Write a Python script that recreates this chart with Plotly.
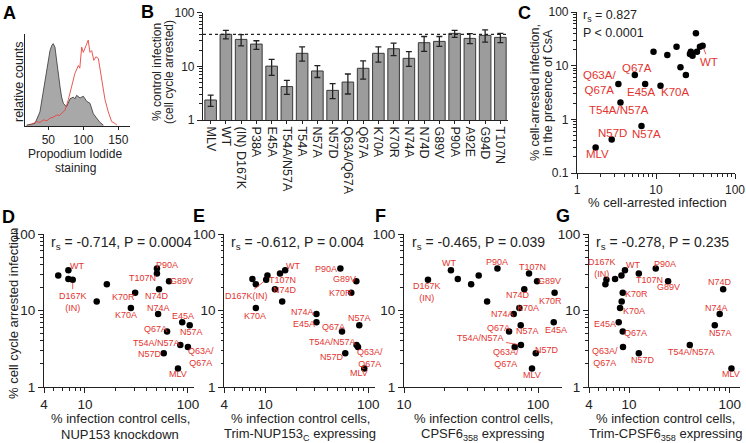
import numpy as np
import plotly.graph_objects as go

W, H = 746, 443
FONT = "Arial, Liberation Sans, Helvetica, sans-serif"
RED = "#e3342f"
INK = "#222222"

# ---------------- Panel A: histogram (Propidium iodide) ----------------
gray_x = [19, 31, 38, 43, 48, 52.4, 55, 57, 59.5, 62, 64.3, 66.7, 69, 71.4, 76, 81, 85.7, 88, 90.5, 95.3, 100, 102, 105, 109.5, 114.3, 119, 124, 128.6]
gray_y = [0.01, 0.03, 0.16, 0.39, 0.66, 0.86, 0.92, 0.94, 0.90, 0.73, 0.58, 0.45, 0.33, 0.26, 0.22, 0.31, 0.33, 0.31, 0.35, 0.32, 0.34, 0.31, 0.28, 0.26, 0.14, 0.09, 0.04, 0.01]
red_x = [24, 33.4, 38, 43, 48, 52.4, 57, 62, 66, 69, 73.8, 78.6, 83.4, 88, 92.9, 95, 97.7, 100, 102, 104, 107, 109.5, 112, 115, 118, 121.5, 124, 127.7, 131, 135.7, 140.5, 145, 148]
red_y = [0.01, 0.05, 0.04, 0.07, 0.06, 0.09, 0.10, 0.125, 0.12, 0.14, 0.18, 0.30, 0.45, 0.60, 0.69, 0.66, 0.90, 0.84, 0.88, 0.92, 0.98, 0.84, 0.86, 0.75, 0.79, 0.77, 0.65, 0.47, 0.30, 0.16, 0.05, 0.03, 0.01]
a_ticks = [50, 100, 150]

# ---------------- Panel B: bar chart ----------------
b_labels = ["MLV", "WT", "(IN) D167K", "P38A", "E45A", "T54A/N57A", "T54A", "N57A", "N57D", "Q63A/Q67A",
            "Q67A", "K70A", "K70R", "N74A", "N74D", "G89V", "P90A", "A92E", "G94D", "T107N"]
b_mean = [2.36, 39.5, 31.8, 26, 10.1, 4.2, 17.5, 8.2, 3.57, 5.1, 9.2, 17.5, 21.3, 14.1, 27.6, 29.2, 41.2, 33.2, 37.8, 34.7]
b_upper = [2.9, 47, 39, 30, 13.5, 5.5, 23, 10.3, 4.75, 7.2, 12.6, 23, 27.2, 18.8, 36, 36, 47, 40.7, 48, 41.2]
b_lower = [1.8, 32.5, 24, 20.7, 6.8, 3.0, 12.5, 6.2, 2.5, 3.05, 5.8, 12.0, 15.8, 10.0, 19.0, 23.6, 34.7, 26.5, 28.4, 27.8]

# ---------------- Scatter panels ----------------
mutants = ["MLV", "WT", "D167K", "P38A", "E45A", "T54A/N57A", "T54A", "N57A", "N57D", "Q63A/Q67A",
           "Q67A", "K70A", "K70R", "N74A", "N74D", "G89V", "P90A", "A92E", "G94D", "T107N"]
# Panel C
c_x = [1.72, 38.9, 27.6, 23.9, 7.29, 3.55, 13.9, 6.55, 2.75, 3.34, 5.39, 11.4, 18.2, 9.3, 20.4, 26.9, 36, 29, 33, 32]
c_y = [0.30, 23.5, 18.2, 6.7, 4.55, 2.07, 15.8, 0.75, 0.42, 4.55, 6.7, 4.24, 22.6, 18.2, 9.3, 16.5, 22.6, 15.3, 18.2, 40]
# Panels D-G: shared y (cell cycle arrested infection)
arrested_y = [1.75, 33.6, 25.3, 22, 7.0, 3.53, 13.1, 6.4, 2.77, 3.33, 5.3, 10.8, 17, 9.0, 19, 24.2, 35.3, 25.9, 28.6, 30.4]
d_x = [80, 6.9, 7.6, 16.3, 88, 84.3, 13, 104, 58.2, 100, 62.7, 27.9, 30.7, 51.3, 52.4, 65.5, 50, 6.9, 5.5, 50]
e_x = [91.4, 15.6, 10.2, 8.1, 31.4, 77, 14.6, 81.8, 59.8, 79.5, 55.6, 8.1, 68.4, 31.4, 12.4, 76.6, 53.6, 7.5, 10.5, 13.9]
f_x = [90.2, 22.4, 15.1, 31.7, 131, 74.6, 41.7, 74.3, 96.2, 67, 60.8, 72.6, 133, 65.9, 79, 98.4, 49.8, 25.2, 36.1, 85.7]
g_x = [104, 9.1, 5.96, 5.82, 7.89, 40.1, 8.45, 71, 12.5, 8.7, 8.65, 8.14, 8.65, 79.5, 86, 24.4, 18.4, 7.26, 8.4, 12.5]

stats = {
    "C": ["r<sub>s</sub> = 0.827", "P < 0.0001"],
    "D": "r<sub>s</sub> = -0.714, P = 0.0004",
    "E": "r<sub>s</sub> = -0.612, P = 0.004",
    "F": "r<sub>s</sub> = -0.465, P = 0.039",
    "G": "r<sub>s</sub> = -0.278, P = 0.235",
}

# label placement (text, dx px, dy px, leader line)
QQ = "Q63A/<br>Q67A"
lab_C = {"WT": ("WT", 6, 16, True), "Q67A": ("Q67A", 2, -7, False), "Q63A/Q67A": (QQ, -19, -2, False),
         "E45A": ("E45A", -4, 8, False), "K70A": ("K70A", 14, 6, False), "T54A/N57A": ("T54A/N57A", -1, 8, False),
         "N57D": ("N57D", 1, -7, False), "N57A": ("N57A", 5, 8, False), "MLV": ("MLV", 2, 7, False)}
lab_D = {"WT": ("WT", 9, -4, False), "D167K": ("D167K<br>(IN)", 0, 22, True), "K70R": ("K70R", -12, 4, False),
         "K70A": ("K70A", -5, 7, False), "P90A": ("P90A", 10, -4, False), "T107N": ("T107N", -14, 4, False),
         "G89V": ("G89V", 12, 0, False), "N74D": ("N74D", -2, 7, False), "N74A": ("N74A", 0, -6, False),
         "E45A": ("E45A", 1, -6, False), "N57A": ("N57A", 2, 7, False), "Q67A": ("Q67A", -12, -3, False),
         "T54A/N57A": ("T54A/N57A", -24, -2, False), "N57D": ("N57D", -14, 1, False),
         "Q63A/Q67A": (QQ, 13, 10, False), "MLV": ("MLV", 0, 6, False)}
lab_E = {"WT": ("WT", 8, -4, False), "T107N": ("T107N", 2, 6, False), "N74D": ("N74D", 10, 1, False),
         "D167K": ("D167K(IN)", -20, 16, True), "K70A": ("K70A", -1, 8, False), "P90A": ("P90A", -14, 0, False),
         "G89V": ("G89V", -12, -2, False), "K70R": ("K70R", -11, 0, False), "N74A": ("N74A", -14, -2, False),
         "E45A": ("E45A", -12, 2, False), "Q67A": ("Q67A", -9, -5, False), "N57A": ("N57A", 0, -7, False),
         "T54A/N57A": ("T54A/N57A", -24, -3, False), "N57D": ("N57D", -13, 4, False),
         "Q63A/Q67A": (QQ, 12, 11, False), "MLV": ("MLV", -5, 5, False)}
lab_F = {"D167K": ("D167K<br>(IN)", -1, 12, False), "WT": ("WT", -2, -7, False), "P90A": ("P90A", 0, -7, False),
         "T107N": ("T107N", 3, -7, False), "G89V": ("G89V", 12, 0, False), "N74D": ("N74D", -6, 6, False),
         "K70A": ("K70A", 9, 0, False), "N74A": ("N74A", -11, 0, False), "N57A": ("N57A", 7, 6, False),
         "Q67A": ("Q67A", -11, -4, False), "T54A/N57A": ("T54A/N57A", -40, -7, True),
         "Q63A/Q67A": (QQ, -9, 11, False), "N57D": ("N57D", 11, -3, False), "MLV": ("MLV", 0, 7, False),
         "K70R": ("K70R", -4, 8, False), "E45A": ("E45A", 2, 8, False)}
lab_G = {"D167K": ("D167K<br>(IN)", -4, -12, False), "WT": ("WT", 8, -5, False), "T107N": ("T107N", 11, 6, False),
         "P90A": ("P90A", 9, -5, False), "G89V": ("G89V", 0, 6, False), "K70R": ("K70R", 14, 1, False),
         "K70A": ("K70A", 14, 3, False), "E45A": ("E45A", -14, 2, False), "Q67A": ("Q67A", 13, 1, False),
         "Q63A/Q67A": (QQ, -18, 10, False), "N57D": ("N57D", 4, 7, False), "T54A/N57A": ("T54A/N57A", 2, 7, False),
         "N74D": ("N74D", -3, -7, False), "N74A": ("N74A", -3, -6, False), "N57A": ("N57A", 6, 8, False),
         "MLV": ("MLV", 0, 6, False)}


def fx(px):
    return px / W


def fy(py):
    return 1 - py / H


fig = go.Figure()
annotations = []
shapes = []

axis_common = dict(showline=True, linecolor=INK, linewidth=1.2, ticks="outside", tickcolor=INK,
                   tickwidth=1.2, ticklen=5, showgrid=False, zeroline=False, automargin=False,
                   tickfont=dict(family=FONT, size=13, color=INK))

def minor_vals(lo, hi):
    vals = []
    for dec in [0.1, 1, 10, 100]:
        for m in range(2, 10):
            v = m * dec
            if lo < v < hi:
                vals.append(v)
    return vals

def log_axis(lo, hi, ticks, fontsize=13):
    d = dict(axis_common)
    d.update(type="log", range=[np.log10(lo), np.log10(hi)], tickmode="array",
             tickvals=ticks, ticktext=[("%g" % t) for t in ticks],
             tickfont=dict(family=FONT, size=fontsize, color=INK),
             minor=dict(ticks="outside", ticklen=2.5, tickwidth=1, tickcolor=INK,
                        tickmode="array", tickvals=minor_vals(lo, hi), showgrid=False))
    return d

layout_axes = {}

# ---- A
fig.add_trace(go.Scatter(x=gray_x, y=gray_y, mode="lines", fill="tozeroy", fillcolor="#a8a8a8",
                         line=dict(color="#333333", width=0.8), xaxis="x", yaxis="y"))
fig.add_trace(go.Scatter(x=red_x, y=red_y, mode="lines", line=dict(color="#e8453f", width=0.9),
                         xaxis="x", yaxis="y"))
ax = dict(axis_common)
ax.update(domain=[fx(25), fx(130)], range=[16.7, 166.7], tickmode="array", tickvals=a_ticks,
          anchor="y", ticklen=2.5, tickfont=dict(family=FONT, size=12, color=INK))
ay = dict(axis_common)
ay.update(domain=[fy(126), fy(34)], range=[0, 1.05], ticks="", showticklabels=False, anchor="x")
layout_axes["xaxis"] = ax
layout_axes["yaxis"] = ay

# ---- B
fig.add_trace(go.Bar(x=b_labels, y=b_mean, xaxis="x2", yaxis="y2",
                     marker=dict(color="#9c9c9c", line=dict(color="#3a3a3a", width=1)),
                     width=0.76,
                     error_y=dict(type="data", symmetric=False,
                                  array=[u - m for u, m in zip(b_upper, b_mean)],
                                  arrayminus=[m - l for m, l in zip(b_mean, b_lower)],
                                  color=INK, thickness=1.3, width=3)))
bx = dict(axis_common)
bx.update(domain=[fx(203), fx(508)], range=[-0.5, 19.5], tickangle=90, anchor="y2", ticklen=3,
          tickmode="array", tickvals=b_labels, ticktext=b_labels,
          tickfont=dict(family=FONT, size=12.5, color=INK))
by = log_axis(1, 100, [1, 10, 100], fontsize=12)
by.update(domain=[fy(120), fy(12.7)], anchor="x2")
layout_axes["xaxis2"] = bx
layout_axes["yaxis2"] = by
shapes.append(dict(type="line", xref="x2 domain", yref="y2", x0=0, x1=1,
                   y0=b_mean[1], y1=b_mean[1],
                   line=dict(color=INK, width=1.2, dash="dot")))

# ---- scatter helper
def add_scatter(idx, xs, ys, labels, xdom, ydom, xr, xt, yr, yt, fs_lab, fs_tick, stat, stat_xy, stat_fs):
    xa, ya = ("x%d" % idx), ("y%d" % idx)
    fig.add_trace(go.Scatter(x=xs, y=ys, mode="markers", xaxis=xa, yaxis=ya,
                             marker=dict(color="black", size=6.5)))
    xd = log_axis(xr[0], xr[1], xt, fs_tick)
    xd.update(domain=[fx(xdom[0]), fx(xdom[1])], anchor=ya)
    yd = log_axis(yr[0], yr[1], yt, fs_tick)
    yd.update(domain=[fy(ydom[1]), fy(ydom[0])], anchor=xa)
    layout_axes["xaxis%d" % idx] = xd
    layout_axes["yaxis%d" % idx] = yd
    for name, (txt, dx, dy, lead) in labels.items():
        i = mutants.index(name)
        base = dict(x=np.log10(xs[i]), y=np.log10(ys[i]), xref=xa, yref=ya, text=txt,
                    font=dict(family=FONT, size=fs_lab, color=RED), align="center")
        if lead:
            base.update(showarrow=True, ax=dx, ay=dy, arrowhead=0, arrowwidth=0.8,
                        arrowcolor=RED, standoff=3)
        else:
            base.update(showarrow=False, xshift=dx, yshift=-dy)
        annotations.append(base)
    if isinstance(stat, list):
        for k, s in enumerate(stat):
            annotations.append(dict(x=fx(stat_xy[0]), y=fy(stat_xy[1] + k * 17), xref="paper", yref="paper",
                                    text=s, showarrow=False, xanchor="left", yanchor="middle",
                                    font=dict(family=FONT, size=stat_fs, color=INK)))
    else:
        annotations.append(dict(x=fx(stat_xy[0]), y=fy(stat_xy[1]), xref="paper", yref="paper",
                                text=stat, showarrow=False, xanchor="left", yanchor="middle",
                                font=dict(family=FONT, size=stat_fs, color=INK)))

add_scatter(3, c_x, c_y, lab_C, (577, 735), (12, 173), (1, 100), [1, 10, 100], (0.1, 100), [0.1, 1, 10, 100],
            11.5, 12, stats["C"], (581, 16), 12.5)
add_scatter(4, d_x, arrested_y, lab_D, (44, 194.2), (234, 387), (4, 115), [4, 10, 100], (1, 100), [1, 10, 100],
            9, 13.5, stats["D"], (49, 243), 14)
add_scatter(5, e_x, arrested_y, lab_E, (224.3, 374.5), (234, 387), (4, 115), [4, 10, 100], (1, 100), [1, 10, 100],
            9, 13.5, stats["E"], (229, 243), 14)
add_scatter(6, f_x, arrested_y, lab_F, (404, 561.6), (234, 387), (10, 150), [10, 100], (1, 100), [1, 10, 100],
            9, 13.5, stats["F"], (410, 243), 14)
add_scatter(7, g_x, arrested_y, lab_G, (589, 739.5), (234, 387), (4, 125), [4, 10, 100], (1, 100), [1, 10, 100],
            9, 13.5, stats["G"], (594, 243), 14)

# ---- titles
def txt(x, y, s, size=13, angle=0, bold=False, anchor="center"):
    annotations.append(dict(x=fx(x), y=fy(y), xref="paper", yref="paper", text=("<b>%s</b>" % s) if bold else s,
                            showarrow=False, textangle=angle, xanchor=anchor, yanchor="middle",
                            font=dict(family=FONT, size=size, color=INK if not bold else "black")))

for letter, (lx, ly) in {"A": (9, 13), "B": (147, 12), "C": (524, 13), "D": (8, 217),
                         "E": (199, 216), "F": (380, 216), "G": (563, 216)}.items():
    txt(lx, ly, letter, size=18, bold=True)

txt(19, 82, "relative counts", size=12.5, angle=-90)
txt(75, 154, "Propodium Iodide", size=12)
txt(75, 168, "staining", size=12)
txt(157, 72, "% control infection", size=12, angle=-90)
txt(169, 72, "(cell cycle arrested)", size=12, angle=-90)
txt(535, 93, "% cell-arrested infection,", size=12.5, angle=-90)
txt(548, 93, "in the presence of CsA", size=12.5, angle=-90)
txt(657, 202, "% cell-arrested infection", size=13)
txt(13, 314, "% cell cycle arrested infection", size=13, angle=-90)
for cx, line2 in [(120, "NUP153 knockdown"), (300, "Trim-NUP153<sub>C</sub> expressing"),
                  (483, "CPSF6<sub>358</sub> expressing"), (665, "Trim-CPSF6<sub>358</sub> expressing")]:
    txt(cx, 418, "% infection control cells,", size=13)
    txt(cx, 434, line2, size=13)

fig.update_layout(template="none", width=W, height=H, margin=dict(l=0, r=0, t=0, b=0, pad=0),
                  showlegend=False, plot_bgcolor="white", paper_bgcolor="white", bargap=0.24,
                  annotations=annotations, shapes=shapes, **layout_axes)
fig.write_html("out.html", config={"displayModeBar": False},
               post_script="document.body.style.margin='0';document.body.style.padding='0';"
                           "document.body.style.overflow='hidden';")
